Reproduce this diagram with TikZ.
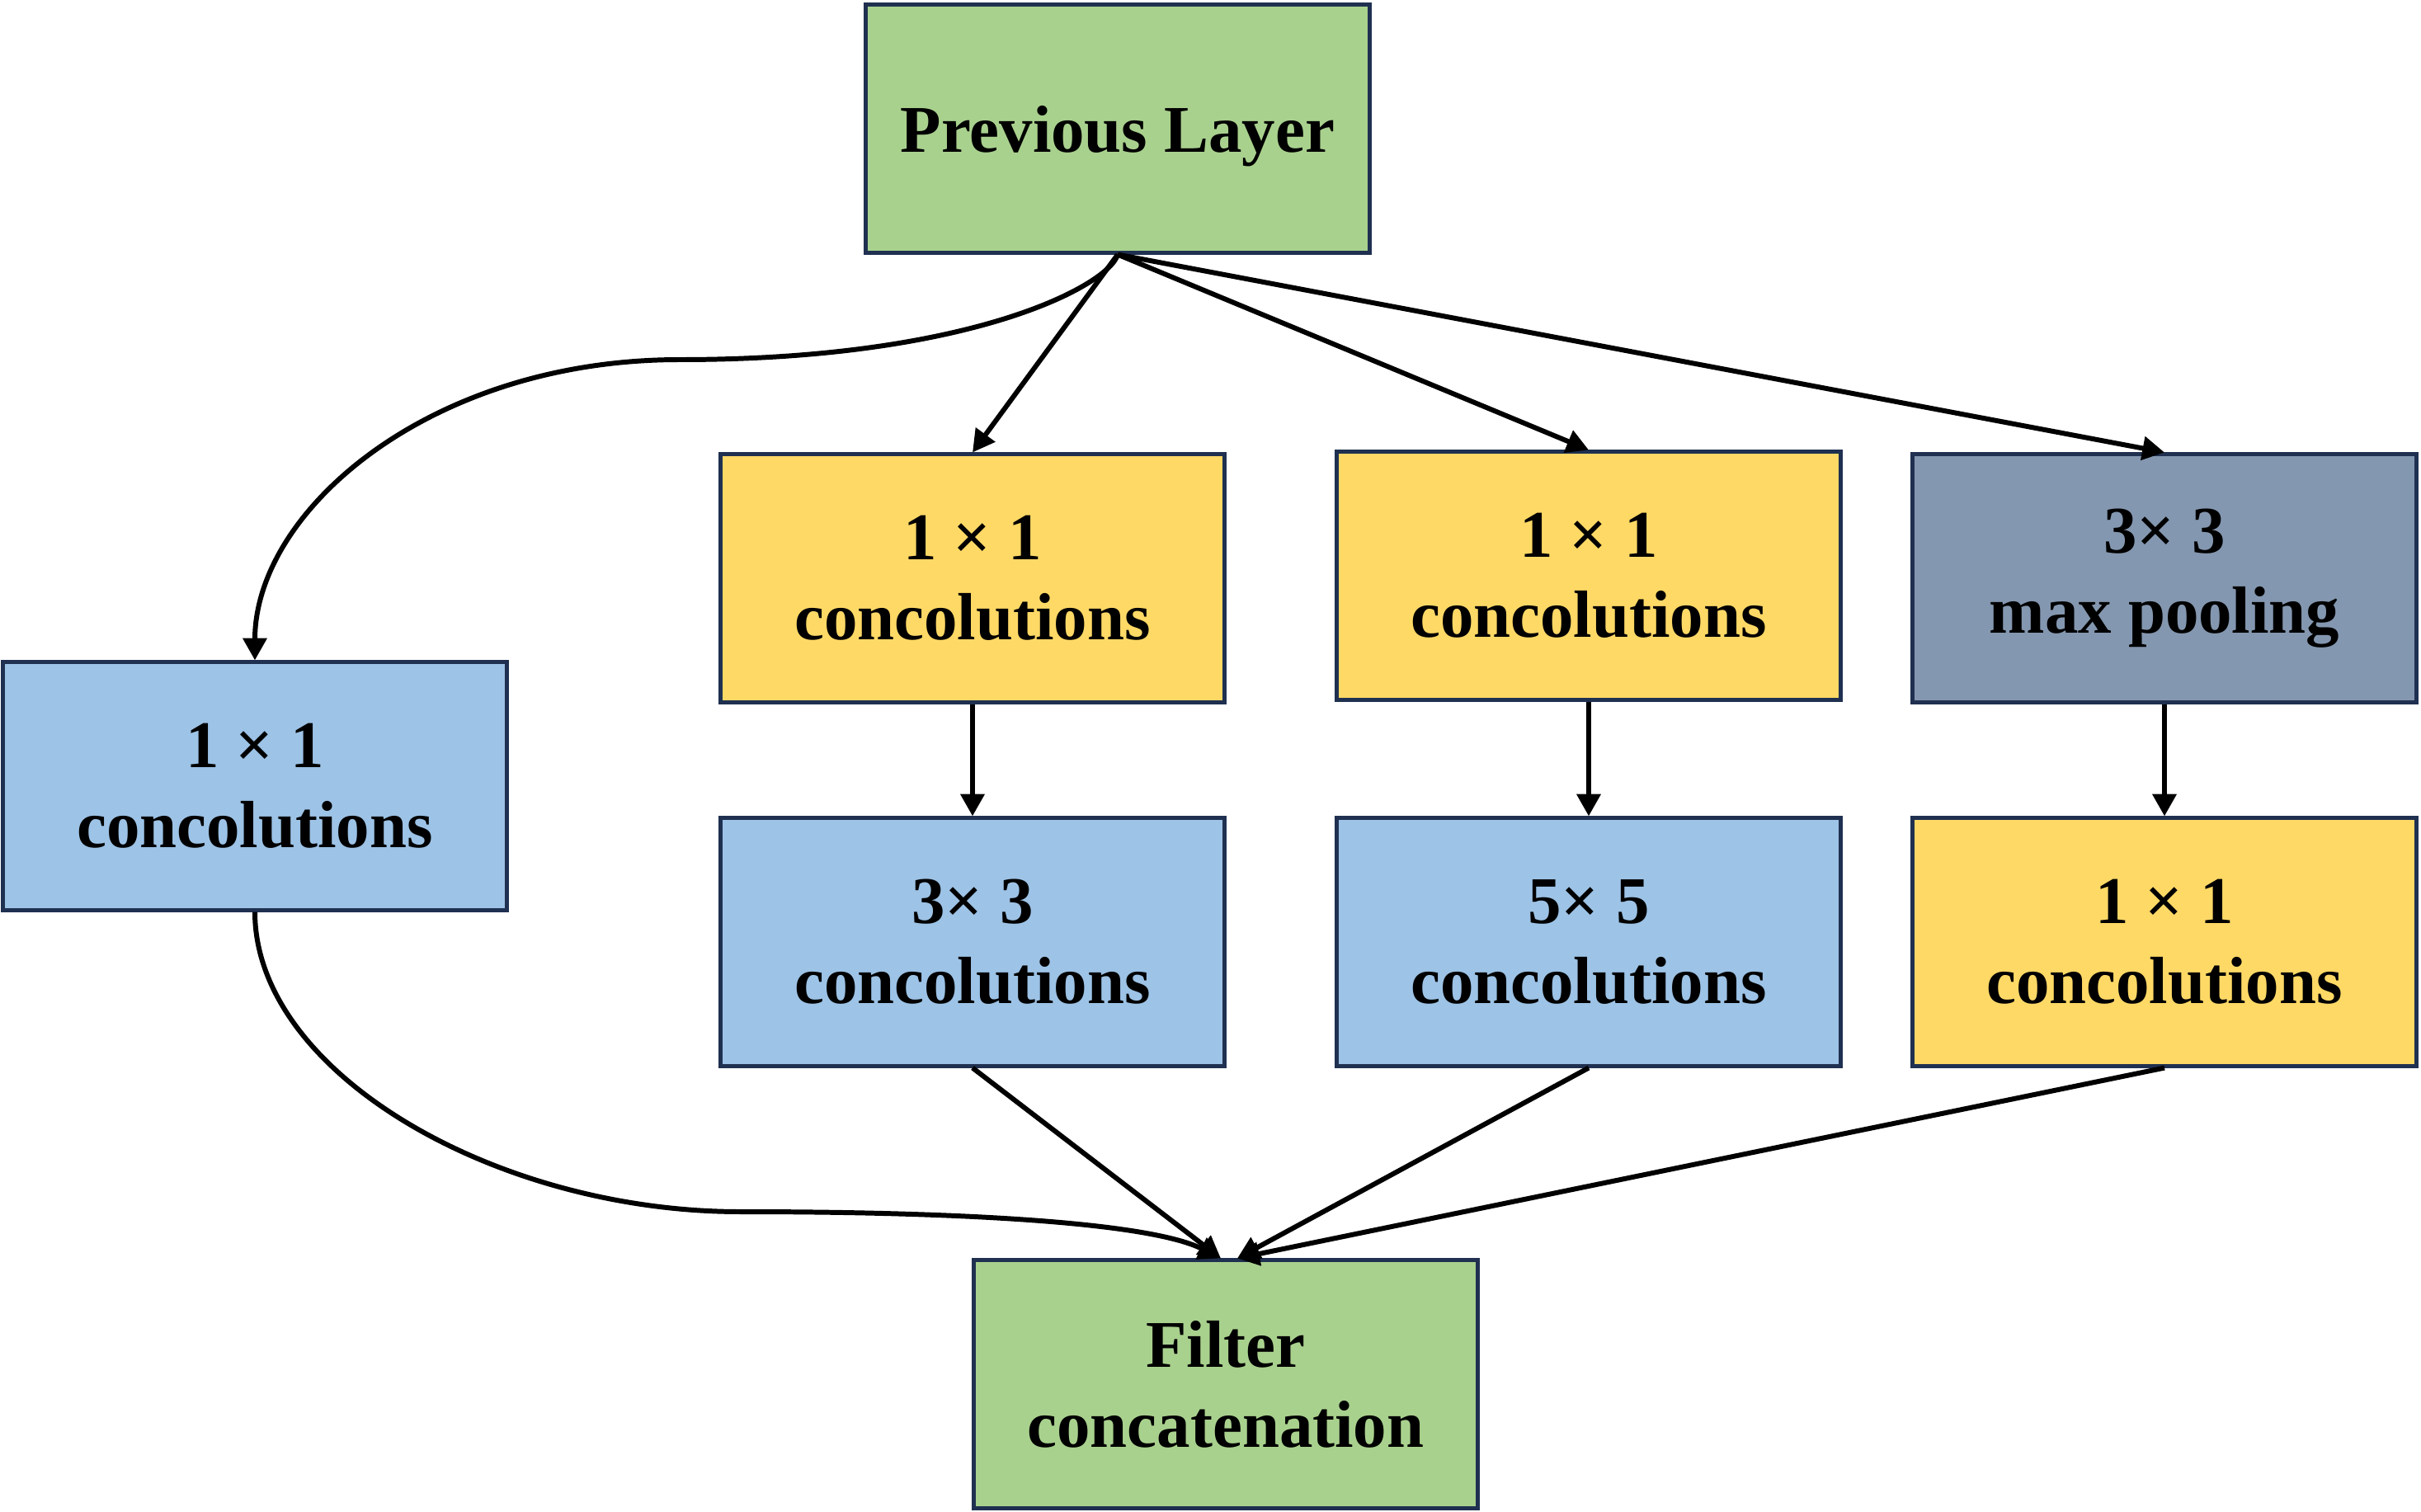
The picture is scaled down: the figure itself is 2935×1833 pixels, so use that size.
\documentclass[tikz,border=0pt]{standalone}
\usepackage{fontspec}
\setmainfont{Liberation Serif}
\usetikzlibrary{arrows.meta}
\definecolor{cgreen}{HTML}{A9D18E}
\definecolor{cblue}{HTML}{9DC3E6}
\definecolor{cyellow}{HTML}{FFD966}
\definecolor{cgray}{HTML}{8497B0}
\definecolor{cborder}{HTML}{1F3050}
\begin{document}
\begin{tikzpicture}[x=0.01cm,y=-0.01cm,
  box/.style={draw=cborder, line width=1.4pt, minimum width=6.1cm, minimum height=3.0cm,
    inner sep=0pt, align=center, font=\fontsize{23}{27.5}\selectfont\bfseries},
  conn/.style={-{Triangle[length=7.6pt,width=8pt]}, line width=1.7pt, black}]
\useasboundingbox (0,0) rectangle (2935,1833);
\node[box, fill=cgreen, text depth=0pt] (prev) at (1355,156) {Previous Layer};
\node[box, fill=cblue]   (left) at (309,953)  {1 × 1\\concolutions};
\node[box, fill=cyellow] (ya)   at (1179,701) {1 × 1\\concolutions};
\node[box, fill=cyellow] (yb)   at (1926,698) {1 × 1\\concolutions};
\node[box, fill=cgray]   (pool) at (2624,701) {3× 3\\max pooling};
\node[box, fill=cblue]   (ba)   at (1179,1142) {3× 3\\concolutions};
\node[box, fill=cblue]   (bb)   at (1926,1142) {5× 5\\concolutions};
\node[box, fill=cyellow] (yc)   at (2624,1142) {1 × 1\\concolutions};
\node[box, fill=cgreen]  (filt) at (1486,1678) {Filter\\concatenation};
\coordinate (c1) at (824,436);
\coordinate (c2) at (898,1469);
% top connectors
\draw[conn] (prev.south) .. controls (1345,345) and (1180,436) .. (c1)
  .. controls (520,436) and (309,620) .. (left.north);
\draw[conn] (prev.south) -- (ya.north);
\draw[conn] (prev.south) -- (yb.north);
\draw[conn] (prev.south) -- (pool.north);
% vertical
\draw[conn] (ya.south) -- (ba.north);
\draw[conn] (yb.south) -- (bb.north);
\draw[conn] (pool.south) -- (yc.north);
% bottom connectors
\draw[conn] (left.south) .. controls (309,1300) and (600,1469) .. (c2)
  .. controls (1200,1469) and (1400,1485) .. ([xshift=-0.06cm]filt.north);
\draw[conn] (ba.south) -- ([xshift=-0.06cm]filt.north);
\draw[conn] (bb.south) -- ([xshift=0.14cm]filt.north);
\draw[conn] (yc.south) -- ([xshift=0.14cm]filt.north);
\end{tikzpicture}
\end{document}
